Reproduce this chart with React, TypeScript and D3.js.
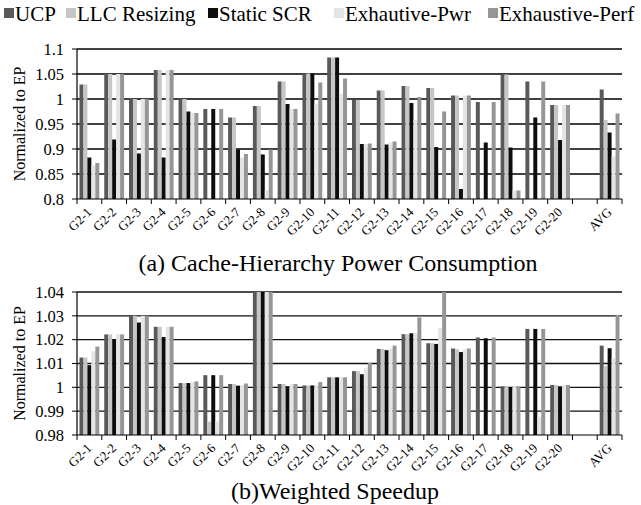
import React from "react";
import * as d3 from "d3";

const categories = ["G2-1","G2-2","G2-3","G2-4","G2-5","G2-6","G2-7","G2-8","G2-9","G2-10","G2-11","G2-12","G2-13","G2-14","G2-15","G2-16","G2-17","G2-18","G2-19","G2-20","","AVG"];
const seriesNames = ["UCP","LLC Resizing","Static SCR","Exhautive-Pwr","Exhaustive-Perf"];
const seriesColors = ["#595959","#c6c6c6","#0d0d0d","#e4e4e4","#969696"];

const powerUCP  = [1.029,1.051,1.001,1.058,1.0,0.98,0.963,0.986,1.035,1.051,1.083,0.998,1.017,1.026,1.022,1.007,0.994,1.049,1.035,0.988,null,1.019];
const powerLLC  = [1.029,1.05,1.0,1.058,1.0,0.8,0.963,0.986,1.035,1.051,1.083,0.998,1.017,1.026,1.022,1.007,0.8,1.049,0.8,0.988,null,0.958];
const powerSCR  = [0.883,0.919,0.891,0.883,0.975,0.98,0.899,0.889,0.99,1.051,1.083,0.91,0.909,0.992,0.904,0.82,0.913,0.903,0.963,0.918,null,0.933];
const powerPwr  = [0.867,1.05,1.0,1.058,0.972,0.8,0.883,0.817,0.98,0.991,1.01,0.91,0.913,0.958,0.8,1.007,0.8,0.817,0.8,0.988,null,0.885];
const powerPerf = [0.872,1.05,1.0,1.058,0.972,0.98,0.89,0.899,0.98,1.033,1.041,0.911,0.915,1.004,0.975,1.007,0.994,0.817,1.035,0.988,null,0.971];

const spUCP  = [1.0125,1.0222,1.030,1.0254,1.0018,1.0051,1.0014,1.06,1.0014,1.0008,1.0042,1.0068,1.0161,1.0223,1.0185,1.0163,1.0209,1.0004,1.0245,1.001,null,1.0175];
const spLLC  = [1.0125,1.0222,1.030,1.0254,1.0018,0.9856,1.0014,1.06,1.0014,1.0008,1.0042,1.0068,1.0161,1.0223,1.0185,1.016,0.98,1.0004,0.98,1.001,null,1.0089];
const spSCR  = [1.0093,1.0199,1.0272,1.0211,1.0018,1.0051,1.0007,1.06,1.0005,1.0008,1.0042,1.0055,1.0156,1.0227,1.0182,1.0148,1.0206,1.0001,1.0245,1.0004,null,1.0164];
const spPwr  = [1.0151,1.0222,1.030,1.0254,1.0022,0.9856,1.001,1.06,1.0014,1.001,1.0042,1.008,1.0161,1.0227,1.0248,1.016,0.98,1.0004,0.9877,1.001,null,1.0122];
const spPerf = [1.0171,1.0222,1.030,1.0254,1.0025,1.0051,1.0016,1.06,1.0014,1.0022,1.0042,1.0102,1.0175,1.0293,1.045,1.0163,1.0209,1.0004,1.0245,1.001,null,1.0304];

const powerTicks = [0.8,0.85,0.9,0.95,1,1.05,1.1];
const powerTickLabels = ["0.8","0.85","0.9","0.95","1","1.05","1.1"];
const spTicks = [0.98,0.99,1,1.01,1.02,1.03,1.04];
const spTickLabels = ["0.98","0.99","1","1.01","1.02","1.03","1.04"];

const FONT = "'Liberation Serif', 'Times New Roman', serif";
const W = 641, H = 505;
const left = 77, right = 622;

function Panel({ series, domain, ticks, tickLabels, top, bottom, gridColor, gridWidth, title, titleX, titleY, titleSize }) {
  const x = d3.scaleBand().domain(categories.map((_, i) => String(i))).range([left, right]).padding(0);
  const xs = d3.scaleBand().domain(seriesNames).range([x.bandwidth() * 0.1, x.bandwidth() * 0.9]).padding(0);
  const y = d3.scaleLinear().domain(domain).range([bottom, top]).clamp(true);
  const boundaries = d3.range(categories.length + 1).map(i => left + i * x.step());
  return (
    <g>
      {ticks.slice(1).map((t, i) => (
        <line key={"g" + i} x1={left} x2={right} y1={y(t)} y2={y(t)} stroke={gridColor} strokeWidth={gridWidth} />
      ))}
      {categories.map((c, i) => (
        <g key={"c" + i}>
          {series.map((arr, s) => {
            const v = arr[i];
            if (v == null) return null;
            const yt = y(v);
            return (
              <rect key={s} x={x(String(i)) + xs(seriesNames[s])} width={xs.bandwidth()} y={yt} height={Math.max(0, y(domain[0]) - yt)} fill={seriesColors[s]} />
            );
          })}
        </g>
      ))}
      <line x1={left} x2={left} y1={top} y2={bottom} stroke="#000" strokeWidth={1.2} />
      <line x1={left} x2={right} y1={bottom} y2={bottom} stroke="#000" strokeWidth={1.2} />
      {boundaries.map((bx, i) => (
        <line key={"t" + i} x1={bx} x2={bx} y1={bottom} y2={bottom + 5} stroke="#000" strokeWidth={1} />
      ))}
      {ticks.map((t, i) => (
        <g key={"y" + i}>
          <line x1={left - 5} x2={left} y1={y(t)} y2={y(t)} stroke="#000" strokeWidth={1} />
          <text x={64} y={y(t)} dy="0.35em" textAnchor="end" fontFamily={FONT} fontSize={16.5}>{tickLabels[i]}</text>
        </g>
      ))}
      <text transform={`translate(19,${(top + bottom) / 2}) rotate(-90)`} dy="0.35em" textAnchor="middle" fontFamily={FONT} fontSize={16}>Normalized to EP</text>
      {categories.map((c, i) => (
        <text key={"xl" + i} transform={`translate(${x(String(i)) + x.bandwidth() / 2 + 3},${bottom + 14}) rotate(-45)`} textAnchor="end" fontFamily={FONT} fontSize={13}>{c}</text>
      ))}
      <text x={titleX} y={titleY} textAnchor="middle" fontFamily={FONT} fontSize={titleSize}>{title}</text>
    </g>
  );
}

const legendX = [4, 66, 208, 334, 488];

export default function App() {
  return (
    <svg width={W} height={H} style={{ position: "absolute", left: 0, top: 0, background: "#fff" }}>
      <rect width={W} height={H} fill="#fff" />
      {seriesNames.map((n, i) => (
        <g key={n}>
          <rect x={legendX[i]} y={8} width={10} height={10} fill={seriesColors[i]} />
          <text x={legendX[i] + 11} y={21} fontFamily={FONT} fontSize={21}>{n}</text>
        </g>
      ))}
      <Panel series={[powerUCP, powerLLC, powerSCR, powerPwr, powerPerf]} domain={[0.8, 1.1]} ticks={powerTicks} tickLabels={powerTickLabels}
        top={49} bottom={199} gridColor="#404040" gridWidth={2} title="(a) Cache-Hierarchy Power Consumption" titleX={338} titleY={271} titleSize={24} />
      <Panel series={[spUCP, spLLC, spSCR, spPwr, spPerf]} domain={[0.98, 1.04]} ticks={spTicks} tickLabels={spTickLabels}
        top={292} bottom={435} gridColor="#111" gridWidth={1.3} title="(b)Weighted Speedup" titleX={335} titleY={499} titleSize={24} />
    </svg>
  );
}
